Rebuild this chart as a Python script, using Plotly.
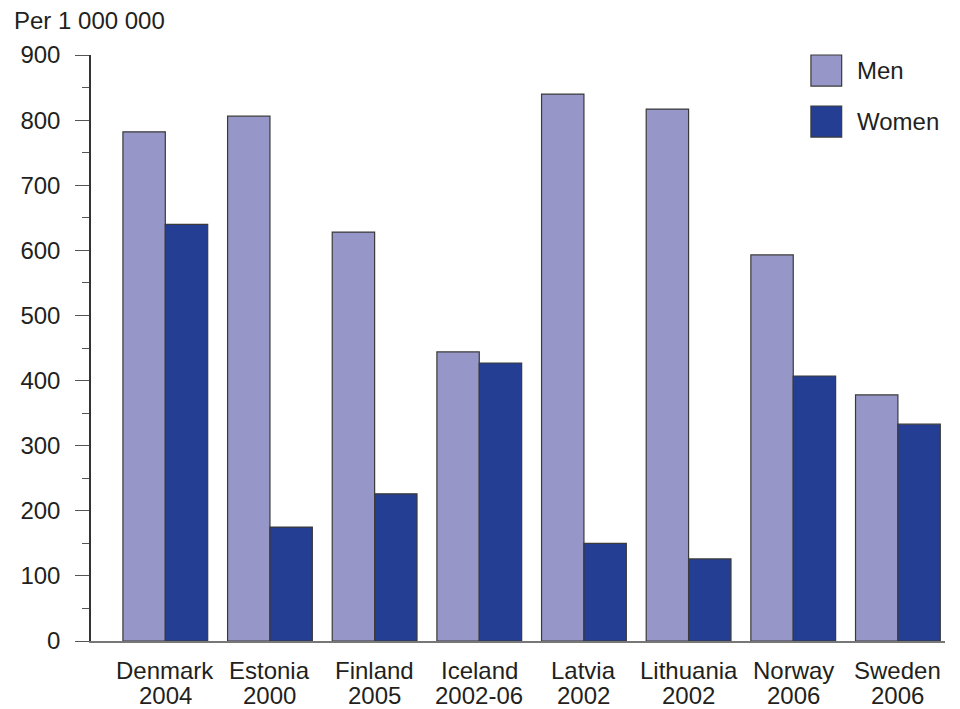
import plotly.graph_objects as go

countries = ["Denmark", "Estonia", "Finland", "Iceland", "Latvia", "Lithuania", "Norway", "Sweden"]
years = ["2004", "2000", "2005", "2002-06", "2002", "2002", "2006", "2006"]
categories = [f"{c} {y}" for c, y in zip(countries, years)]
men = [782, 806, 628, 444, 840, 817, 593, 378]
women = [640, 175, 226, 427, 150, 126, 407, 333]
series_names = ["Men", "Women"]
colors = ["#9696C8", "#233E92"]

FONT = "Liberation Sans, Arial, sans-serif"
TXT = "#231F20"

fig = go.Figure()
for name, vals, col in zip(series_names, [men, women], colors):
    fig.add_trace(go.Bar(x=categories, y=vals, name=name, marker_color=col,
                         marker_line_color="#3a3a3a", marker_line_width=1.2,
                         showlegend=False))

fig.update_layout(
    width=952, height=701,
    margin=dict(l=83, r=15, t=47, b=68),
    plot_bgcolor="white", paper_bgcolor="white",
    barmode="group", bargap=0.19, bargroupgap=0,
    font=dict(family=FONT, size=24, color=TXT),
    xaxis=dict(range=[-0.71, 7.45], showline=True, linecolor="#777777", linewidth=1.5,
               ticks="", showgrid=False, automargin=False, showticklabels=False),
    yaxis=dict(range=[0, 900], dtick=100, showline=True, linecolor="#333333", linewidth=1.5,
               ticks="outside", ticklen=14, tickwidth=1.2, tickcolor="#555555",
               ticklabelstandoff=10, automargin=False,
               showgrid=False, zeroline=False, tickfont=dict(size=24, color=TXT),
               minor=dict(dtick=50, ticks="outside", ticklen=7, tickwidth=1.2, tickcolor="#555555")),
)

# two-row category labels (country / year)
for cat, c, y in zip(categories, countries, years):
    fig.add_annotation(text=c, xref="x", yref="paper", x=cat, y=-0.0495,
                       xanchor="center", yanchor="middle", showarrow=False,
                       font=dict(size=24, color=TXT))
    fig.add_annotation(text=y, xref="x", yref="paper", x=cat, y=-0.0935,
                       xanchor="center", yanchor="middle", showarrow=False,
                       font=dict(size=24, color=TXT))

fig.add_annotation(text="Per 1 000 000", xref="paper", yref="paper", x=-0.0925, y=1.0597,
                   xanchor="left", yanchor="middle", showarrow=False,
                   font=dict(size=24, color=TXT))

# custom legend (large swatches)
leg_boxes = [(0.947, 1.0), (0.860, 0.913)]
leg_text_y = [0.9727, 0.8857]
for name, col, (y0, y1), ty in zip(series_names, colors, leg_boxes, leg_text_y):
    fig.add_shape(type="rect", xref="paper", yref="paper",
                  x0=0.843, x1=0.879, y0=y0, y1=y1,
                  fillcolor=col, line=dict(color="#3a3a3a", width=1.2))
    fig.add_annotation(text=name, xref="paper", yref="paper", x=0.8946, y=ty,
                       xanchor="left", yanchor="middle", showarrow=False,
                       font=dict(size=24, color=TXT))

fig.write_html("out.html")
